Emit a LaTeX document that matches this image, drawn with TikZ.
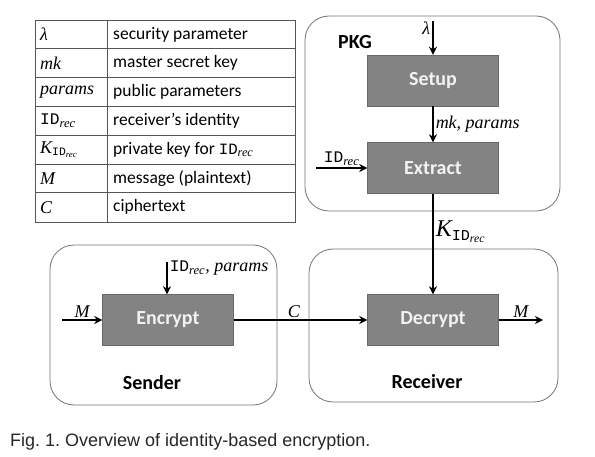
\documentclass[tikz,border=0pt]{standalone}
\usepackage{fontspec}
\setmainfont{Carlito}
\newfontfamily\tms{Liberation Serif}
\newfontfamily\mono[Scale=0.9]{Liberation Mono}
\newfontfamily\capfont{Liberation Sans}
\usetikzlibrary{arrows.meta,positioning}
\definecolor{boxgray}{RGB}{131,131,131}
\definecolor{boxedge}{RGB}{105,105,105}
\definecolor{boxtext}{RGB}{242,242,242}
\definecolor{containeredge}{RGB}{115,115,115}
\definecolor{tableedge}{RGB}{85,85,85}
\newcommand\IDrec{{\mono\upshape ID}\textsubscript{\tms\itshape rec}}
\newcommand\KIDrec{{\tms\itshape K}\textsubscript{\IDrec}}
\frenchspacing

\begin{document}
\begin{tikzpicture}[x=1pt,y=-1pt,
    container/.style={draw=containeredge,line width=0.8pt,rounded corners=24pt,inner sep=0pt},
    algbox/.style={draw=boxedge,fill=boxgray,text=boxtext,font=\bfseries\fontsize{20}{24}\selectfont,
      minimum width=131pt,minimum height=51pt,inner sep=0pt},
    flow/.style={line width=1.5pt,-{Stealth[length=8pt,width=8pt,inset=2.5pt]}},
    tableline/.style={draw=tableedge,line width=0.8pt},
    tablecell/.style={anchor=west,inner sep=0pt,font=\fontsize{17.5}{20}\selectfont},
    symcell/.style={anchor=west,inner sep=0pt,font=\tms\itshape\fontsize{18}{20}\selectfont},
    mathlabel/.style={font=\tms\itshape\fontsize{18}{20}\selectfont,inner sep=2pt},
    rolelabel/.style={font=\bfseries\fontsize{20}{24}\selectfont}]
  \useasboundingbox (0,0) rectangle (595,457);

  \draw[tableline] (35,20) rectangle (295,222);
  \draw[tableline] (107,20) -- (107,222);
  \foreach \i in {1,...,6}
    \draw[tableline] (35,{20+28.8*\i}) -- (295,{20+28.8*\i});
  \foreach \sym/\desc [count=\i] in {λ/security parameter, mk/master secret key,
      params/public parameters, \IDrec/receiver’s identity, \KIDrec/private key for \IDrec,
      M/message (plaintext), C/ciphertext}{
    \node[symcell] (sym\i) at (40,{5.6+28.8*\i}) {\sym};
    \node[tablecell] (desc\i) at (113,{5.6+28.8*\i}) {\desc};
  }

  \node[container,minimum width=255pt,minimum height=195pt] (pkg) at (432.5,113.5) {};
  \node[container,minimum width=227pt,minimum height=160pt] (sender) at (163.5,325) {};
  \node[container,minimum width=249pt,minimum height=153pt] (receiver) at (433.5,325.5) {};

  \node[rolelabel] (pkglabel) at (355,42) {PKG};
  \node[rolelabel] (senderlabel) at (152,383) {Sender};
  \node[rolelabel] (receiverlabel) at (427,382) {Receiver};

  \node[algbox] (setup) at (433,80.5) {Setup};
  \node[algbox] (extract) at (433,168) {Extract};
  \node[algbox] (encrypt) at (168,320) {Encrypt};
  \node[algbox] (decrypt) at (433,320) {Decrypt};

  \coordinate (lambdain) at (433,21);
  \coordinate (idin) at (316,168);
  \coordinate (min) at (62,320);
  \coordinate (idparams) at (167,262);
  \coordinate (mout) at (543,320);

  \draw[flow] (lambdain) -- node[mathlabel,left,pos=0.2] {λ} (setup);
  \draw[flow] (setup) -- node[mathlabel,right] {mk, params} (extract);
  \draw[flow] (idin) -- node[mathlabel,above] {\IDrec} (extract);
  \draw[flow] (extract) -- node[mathlabel,right,pos=0.38,font=\tms\itshape\fontsize{24}{26}\selectfont] {\KIDrec} (decrypt);
  \draw[flow] (min) -- node[mathlabel,above] {M} (encrypt);
  \draw[flow] (idparams) -- node[mathlabel,right,pos=0.2] {\IDrec, params} (encrypt.north -| idparams);
  \draw[flow] (encrypt) -- node[mathlabel,above,pos=0.45] {C} (decrypt);
  \draw[flow] (decrypt) -- node[mathlabel,above] {M} (mout);

  \node[anchor=west,inner sep=0pt,text=black!85,font=\capfont\fontsize{18}{20}\selectfont] (caption) at (10,442)
    {Fig. 1. Overview of identity-based encryption.};
\end{tikzpicture}
\end{document}
